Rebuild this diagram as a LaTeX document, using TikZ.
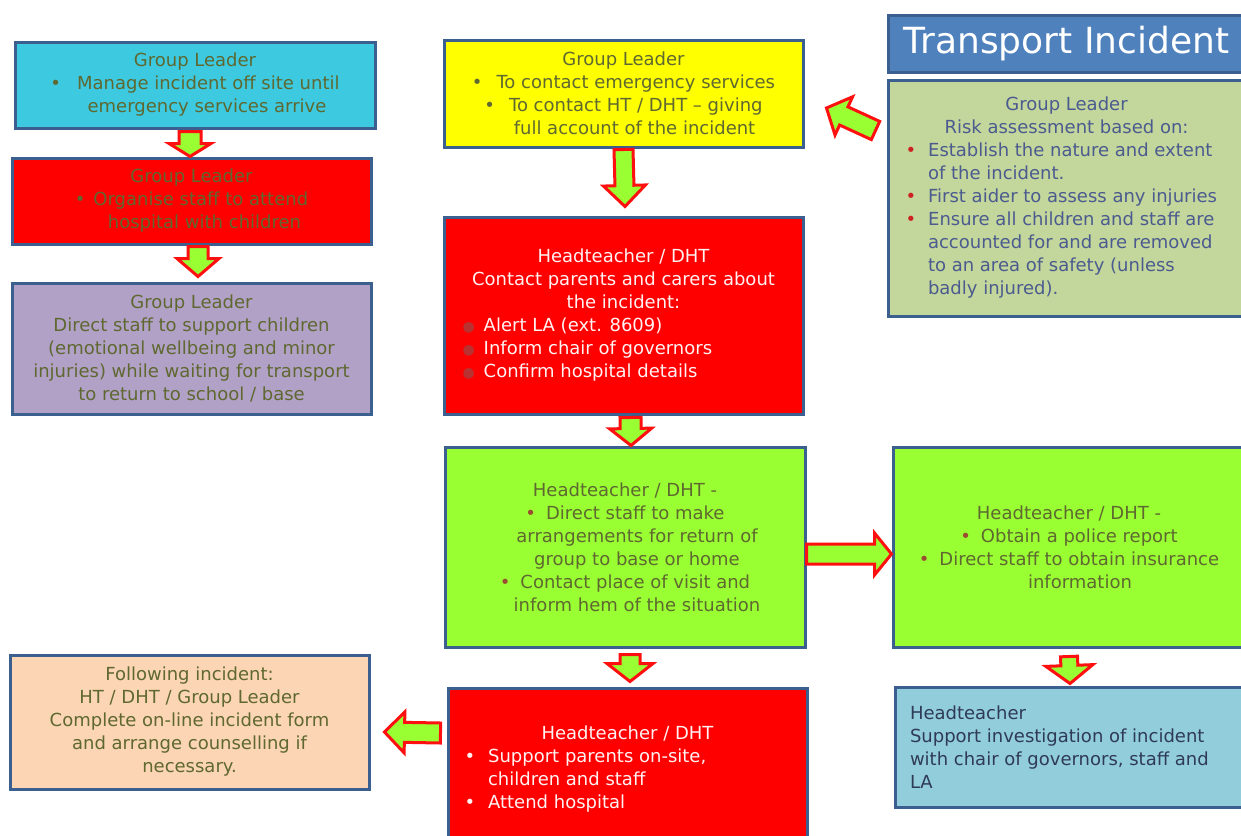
\documentclass[tikz,border=0pt]{standalone}
\usepackage{fontspec}
\setmainfont{DejaVu Sans}
\usetikzlibrary{calc}

\definecolor{boxline}{HTML}{3B5F8E}
\definecolor{titlefill}{HTML}{4F81BD}
\definecolor{cyanfill}{HTML}{3DCAE0}
\definecolor{redfill}{HTML}{FF0000}
\definecolor{lilacfill}{HTML}{B2A1C7}
\definecolor{yellowfill}{HTML}{FFFF00}
\definecolor{limefill}{HTML}{99FF33}
\definecolor{peachfill}{HTML}{FCD5B4}
\definecolor{paleblue}{HTML}{92CDDC}
\definecolor{sagefill}{HTML}{C3D69B}
\definecolor{txtolive}{HTML}{5E6830}
\definecolor{txtslate}{HTML}{4B5B8F}
\definecolor{txtdark}{HTML}{2F3B55}
\definecolor{txtpale}{HTML}{FFF2F2}
\definecolor{ballred}{HTML}{B83232}
\definecolor{dotbrown}{HTML}{9A4B30}
\definecolor{dotred}{HTML}{CC2222}
\definecolor{arrowred}{HTML}{FF1010}

\newcommand\bul[1]{\textcolor{#1}{\textbullet}}
% larger round marker used in the headteacher contact list
\newcommand\ball{\textcolor{ballred}{{\fontsize{14}{0}\selectfont ●}}}
% a line set flush left inside a centred block of the given width
\newcommand\leftrow[2]{\makebox[#1][l]{#2}}

% block arrow: #1 tail, #2 tip, #3 half shaft width, #4 half head width, #5 head length
\newcommand\blockarrow[5]{%
  \coordinate (ba-t) at (#1);
  \coordinate (ba-p) at (#2);
  \coordinate (ba-h) at ($(ba-p)!#5!(ba-t)$);
  \draw[barrow]
    ($(ba-t)!#3!90:(ba-p)$) -- ($(ba-h)!#3!-90:(ba-t)$) -- ($(ba-h)!#4!-90:(ba-t)$)
    -- (ba-p)
    -- ($(ba-h)!#4!90:(ba-t)$) -- ($(ba-h)!#3!90:(ba-t)$) -- ($(ba-t)!#3!-90:(ba-p)$)
    -- cycle;
}

\tikzset{
  box/.style={draw=boxline, line width=3pt, inner sep=0pt, align=center,
    font=\fontsize{18}{23}\selectfont, text=txtolive},
  barrow/.style={draw=arrowred, fill=limefill, line width=3pt, line join=miter},
}

\begin{document}
\begin{tikzpicture}[x=1pt, y=-1pt]
\useasboundingbox (0,0) rectangle (1241,835);
\clip (0,0) rectangle (1241,835);
\fill[white] (0,0) rectangle (1241,835);

% title
\node[box, fill=titlefill, minimum width=357pt, minimum height=57pt,
  font=\fontsize{36}{40}\selectfont, text=white] (title) at (1066.5,43.5) {Transport Incident};

% risk assessment
\node[box, fill=sagefill, minimum width=357pt, minimum height=236pt, text=txtslate]
  (risk) at (1066.5,198) {%
  Group Leader\\
  Risk assessment based on:\\
  \leftrow{330pt}{\hspace*{4pt}\bul{dotred}\hspace{12pt}Establish the nature and extent}\\
  \leftrow{330pt}{\hspace*{26.5pt}of the incident.}\\
  \leftrow{330pt}{\hspace*{4pt}\bul{dotred}\hspace{12pt}First aider to assess any injuries}\\
  \leftrow{330pt}{\hspace*{4pt}\bul{dotred}\hspace{12pt}Ensure all children and staff are}\\
  \leftrow{330pt}{\hspace*{26.5pt}accounted for and are removed}\\
  \leftrow{330pt}{\hspace*{26.5pt}to an area of safety (unless}\\
  \leftrow{330pt}{\hspace*{26.5pt}badly injured).}};

% left column
\node[box, fill=cyanfill, minimum width=360pt, minimum height=86pt] (manage) at (195,85) {%
  Group Leader\\
  \bul{txtolive}\hspace{16pt}Manage incident off site until\\
  \hspace*{24pt}emergency services arrive};

\node[box, fill=redfill, minimum width=359pt, minimum height=86pt] (organise) at (191.5,201) {%
  Group Leader\\
  \bul{txtolive}\hspace{8pt}Organise staff to attend\\
  \hspace*{26pt}hospital with children};

\node[box, fill=lilacfill, minimum width=359pt, minimum height=131pt] (support) at (191.5,348.5) {%
  Group Leader\\
  Direct staff to support children\\
  (emotional wellbeing and minor\\
  injuries) while waiting for transport\\
  to return to school / base};

\node[box, fill=peachfill, minimum width=359pt, minimum height=134pt] (following) at (189.5,722) {%
  Following incident:\\
  HT / DHT / Group Leader\\
  Complete on-line incident form\\
  and arrange counselling if\\
  necessary.};

% middle column
\node[box, fill=yellowfill, minimum width=359pt, minimum height=107pt] (contact) at (623.5,93.5) {%
  Group Leader\\
  \bul{txtolive}\hspace{14pt}To contact emergency services\\
  \bul{txtolive}\hspace{14pt}To contact HT / DHT -- giving\\
  \hspace*{22pt}full account of the incident};

\node[box, fill=redfill, minimum width=359pt, minimum height=197pt, text=txtpale] (parents) at (623.5,315.5) {%
  Headteacher / DHT\\
  Contact parents and carers about\\
  the incident:\\
  \leftrow{330pt}{\hspace*{4pt}\ball\hspace{9pt}Alert LA (ext. 8609)}\\
  \leftrow{330pt}{\hspace*{4pt}\ball\hspace{9pt}Inform chair of governors}\\
  \leftrow{330pt}{\hspace*{4pt}\ball\hspace{9pt}Confirm hospital details}};

\node[box, fill=limefill, minimum width=360pt, minimum height=200pt] (arrange) at (625,547) {%
  Headteacher / DHT -\\
  \bul{dotbrown}\hspace{10pt}Direct staff to make\\
  \hspace*{24pt}arrangements for return of\\
  \hspace*{24pt}group to base or home\\
  \bul{dotbrown}\hspace{10pt}Contact place of visit and\\
  \hspace*{24pt}inform hem of the situation};

\node[box, fill=redfill, minimum width=359pt, minimum height=162pt, text=txtpale] (onsite) at (627.5,769) {%
  Headteacher / DHT\\
  \leftrow{330pt}{\hspace*{2pt}\bul{txtpale}\hspace{13pt}Support parents on-site,}\\
  \leftrow{330pt}{\hspace*{25.5pt}children and staff}\\
  \leftrow{330pt}{\hspace*{2pt}\bul{txtpale}\hspace{13pt}Attend hospital}};

% right column
\node[box, fill=limefill, minimum width=352pt, minimum height=200pt] (police) at (1069,547) {%
  Headteacher / DHT -\\
  \bul{dotbrown}\hspace{10pt}Obtain a police report\\
  \bul{dotbrown}\hspace{10pt}Direct staff to obtain insurance\\
  \hspace*{22pt}information};

\node[box, fill=paleblue, minimum width=350pt, minimum height=120pt, text=txtdark] (investigate) at (1070,747) {%
  \leftrow{320pt}{Headteacher}\\
  \leftrow{320pt}{Support investigation of incident}\\
  \leftrow{320pt}{with chair of governors, staff and}\\
  \leftrow{320pt}{LA}};

% connectors
\blockarrow{[xshift=-5pt, yshift=-2pt]manage.south}{[xshift=-1.5pt]organise.north}{11pt}{21pt}{13pt}
\blockarrow{[xshift=6.5pt, yshift=-1pt]organise.south}{[xshift=6.5pt, yshift=5pt]support.north}{10pt}{21pt}{18pt}
\blockarrow{[yshift=-1pt]contact.south}{[xshift=1.5pt, yshift=9pt]parents.north}{9.5pt}{21pt}{21pt}
\blockarrow{[xshift=7pt, yshift=-2pt]parents.south}{[xshift=6pt]arrange.north}{10.5pt}{21pt}{17pt}
\blockarrow{[xshift=5pt, yshift=-6pt]arrange.south}{[xshift=2.5pt, yshift=5pt]onsite.north}{10pt}{23pt}{18pt}
\blockarrow{[yshift=-8pt]police.south}{[yshift=2pt]investigate.north}{8.5pt}{23.5pt}{18pt}
\blockarrow{[yshift=-7pt]arrange.east}{[yshift=-7pt]police.west}{10pt}{21pt}{17pt}
\blockarrow{[xshift=-6pt, yshift=36pt]onsite.west}{[xshift=14pt, yshift=-10pt]following.east}{10pt}{20.5pt}{20pt}
\blockarrow{[xshift=-11pt, yshift=-52pt]risk.north west}{[xshift=22pt, yshift=-14.5pt]contact.east}{10pt}{21pt}{19pt}
\end{tikzpicture}
\end{document}
